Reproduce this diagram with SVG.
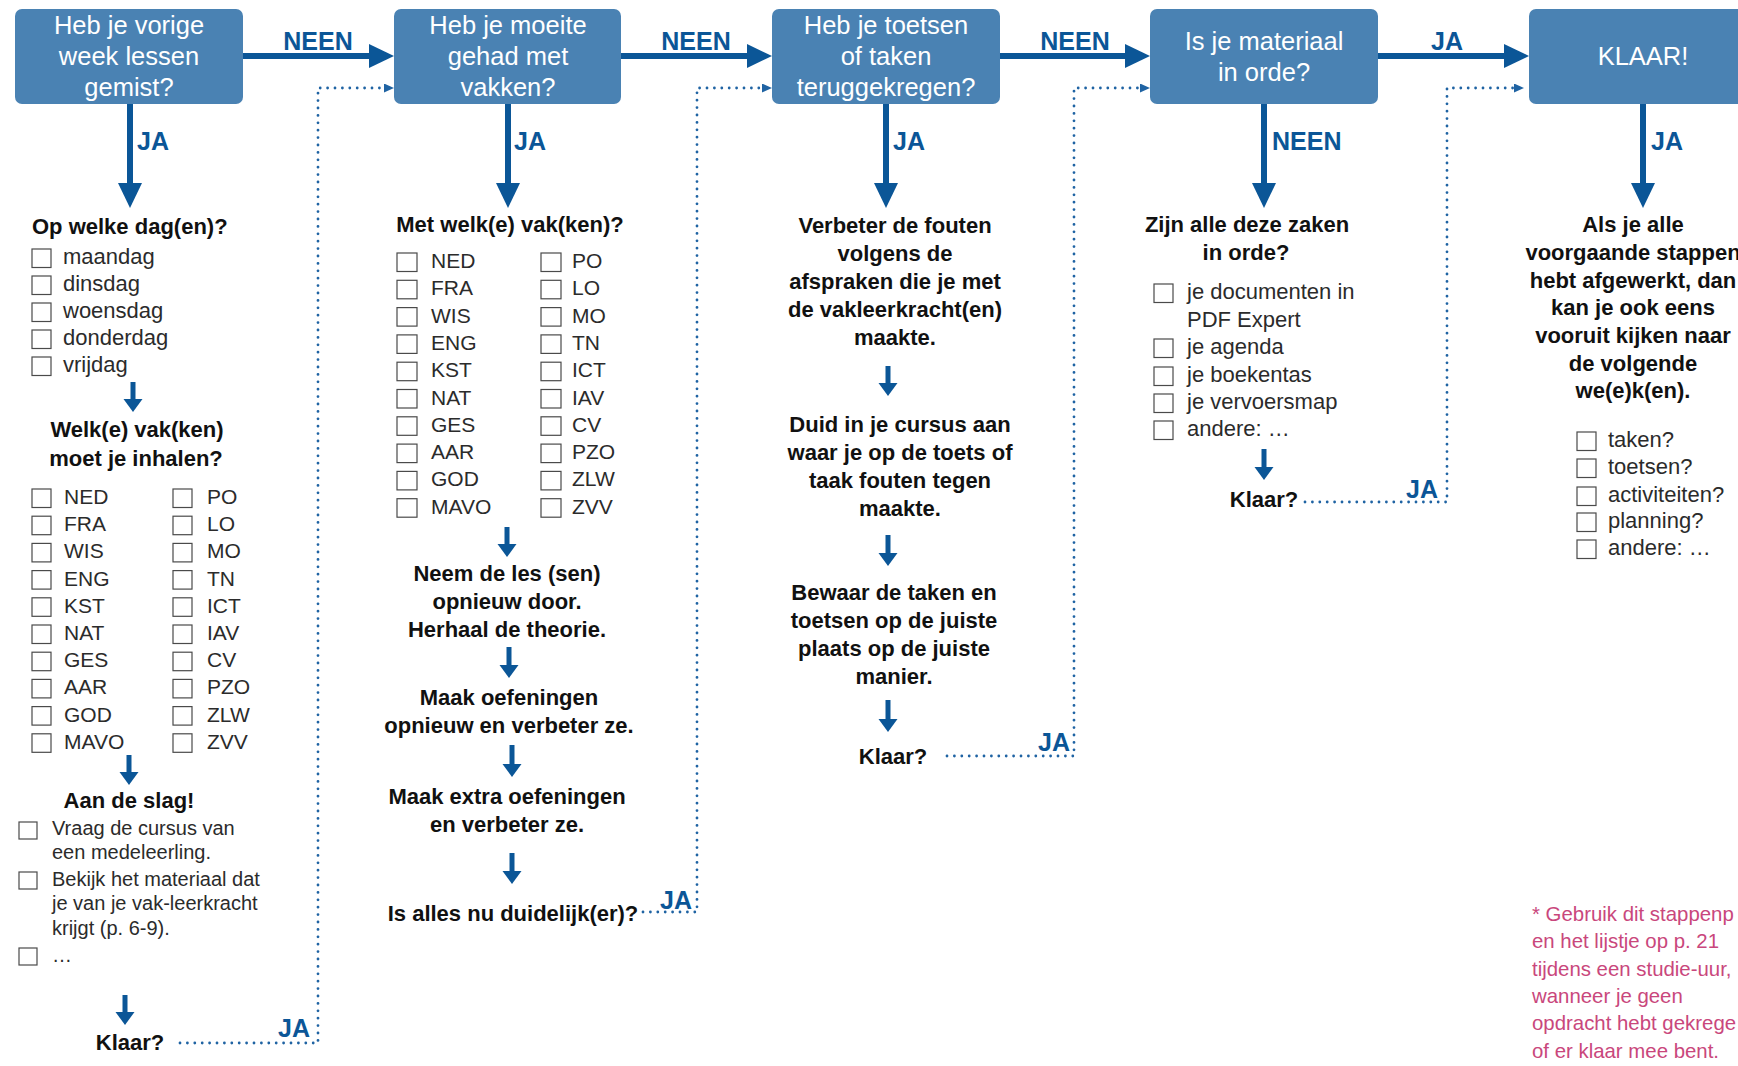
<svg xmlns="http://www.w3.org/2000/svg" width="1738" height="1066" viewBox="0 0 1738 1066">
<defs>
<style>
.box{fill:#4a82b3}
.bt{font-family:"Liberation Sans",Arial,sans-serif;font-size:25.5px;fill:#ffffff;text-anchor:middle}
.lbl{font-family:"Liberation Sans",Arial,sans-serif;font-weight:bold;font-size:25px;fill:#0b5697}
.lblc{text-anchor:middle}
.h{font-family:"Liberation Sans",Arial,sans-serif;font-weight:bold;font-size:22px;fill:#111111}
.hc{text-anchor:middle}
.t{font-family:"Liberation Sans",Arial,sans-serif;font-size:22px;fill:#2b2b2b}
.s{font-size:21px}
.xs{font-size:20px}
.cb{fill:none;stroke:#4a4a4a;stroke-width:1.2}
.arr{stroke:#0b5697;stroke-width:6;fill:none}
.sarr{stroke:#0b5697;stroke-width:5;fill:none}
.dot{stroke:#1f63a3;stroke-width:2.8;stroke-dasharray:0 7.4;stroke-linecap:round;fill:none}
.fn{font-family:"Liberation Sans",Arial,sans-serif;font-size:20.4px;fill:#c9477c}
</style>
<marker id="big" markerUnits="userSpaceOnUse" markerWidth="26" markerHeight="24" refX="1" refY="12" orient="auto"><path d="M0,0 L25,12 L0,24 Z" fill="#0b5697"/></marker>
<marker id="sm" markerUnits="userSpaceOnUse" markerWidth="14" markerHeight="20" refX="1" refY="9.5" orient="auto"><path d="M0,0 L13,9.5 L0,19 Z" fill="#0b5697"/></marker>
<marker id="dh" markerUnits="userSpaceOnUse" markerWidth="11" markerHeight="10" refX="1" refY="4.5" orient="auto"><path d="M0,0 L10,4.5 L0,9 Z" fill="#1f63a3"/></marker>
</defs>
<rect width="1738" height="1066" fill="#ffffff"/>

<g id="connectors">
<line class="arr" x1="243" y1="56" x2="370" y2="56" marker-end="url(#big)"/>
<line class="arr" x1="621" y1="56" x2="748" y2="56" marker-end="url(#big)"/>
<line class="arr" x1="1000" y1="56" x2="1126" y2="56" marker-end="url(#big)"/>
<line class="arr" x1="1378" y1="56" x2="1505" y2="56" marker-end="url(#big)"/>
<text class="lbl lblc" x="318" y="50">NEEN</text>
<text class="lbl lblc" x="696" y="50">NEEN</text>
<text class="lbl lblc" x="1075" y="50">NEEN</text>
<text class="lbl lblc" x="1447" y="50">JA</text>

<line class="arr" x1="130" y1="104" x2="130" y2="184" marker-end="url(#big)"/>
<line class="arr" x1="508" y1="104" x2="508" y2="184" marker-end="url(#big)"/>
<line class="arr" x1="886" y1="104" x2="886" y2="184" marker-end="url(#big)"/>
<line class="arr" x1="1264" y1="104" x2="1264" y2="184" marker-end="url(#big)"/>
<line class="arr" x1="1643" y1="104" x2="1643" y2="184" marker-end="url(#big)"/>
<text class="lbl" x="137" y="150">JA</text>
<text class="lbl" x="514" y="150">JA</text>
<text class="lbl" x="893" y="150">JA</text>
<text class="lbl" x="1272" y="150">NEEN</text>
<text class="lbl" x="1651" y="150">JA</text>

<line class="sarr" x1="133" y1="382" x2="133" y2="400" marker-end="url(#sm)"/>
<line class="sarr" x1="129" y1="755" x2="129" y2="773" marker-end="url(#sm)"/>
<line class="sarr" x1="125" y1="995" x2="125" y2="1013" marker-end="url(#sm)"/>
<line class="sarr" x1="507" y1="527" x2="507" y2="545" marker-end="url(#sm)"/>
<line class="sarr" x1="509" y1="647" x2="509" y2="666" marker-end="url(#sm)"/>
<line class="sarr" x1="512" y1="745" x2="512" y2="765" marker-end="url(#sm)"/>
<line class="sarr" x1="512" y1="853" x2="512" y2="872" marker-end="url(#sm)"/>
<line class="sarr" x1="888" y1="366" x2="888" y2="384" marker-end="url(#sm)"/>
<line class="sarr" x1="888" y1="535" x2="888" y2="554" marker-end="url(#sm)"/>
<line class="sarr" x1="888" y1="700" x2="888" y2="720" marker-end="url(#sm)"/>
<line class="sarr" x1="1264" y1="449" x2="1264" y2="468" marker-end="url(#sm)"/>

<path class="dot" d="M180,1043 H318 V88 H385" marker-end="url(#dh)"/>
<path class="dot" d="M643,912 H697 V88 H763" marker-end="url(#dh)"/>
<path class="dot" d="M947,756 H1074 V88 H1141" marker-end="url(#dh)"/>
<path class="dot" d="M1305,502 H1447 V88 H1515" marker-end="url(#dh)"/>
<text class="lbl" x="278" y="1037">JA</text>
<text class="lbl" x="660" y="909">JA</text>
<text class="lbl" x="1038" y="751">JA</text>
<text class="lbl" x="1406" y="498">JA</text>
</g>

<g id="box1">
<rect class="box" x="15" y="9" width="228" height="95" rx="7"/>
<text class="bt" x="129" y="34">Heb je vorige</text>
<text class="bt" x="129" y="65">week lessen</text>
<text class="bt" x="129" y="96">gemist?</text>
</g>
<g id="box2">
<rect class="box" x="394" y="9" width="227" height="95" rx="7"/>
<text class="bt" x="508" y="34">Heb je moeite</text>
<text class="bt" x="508" y="65">gehad met</text>
<text class="bt" x="508" y="96">vakken?</text>
</g>
<g id="box3">
<rect class="box" x="772" y="9" width="228" height="95" rx="7"/>
<text class="bt" x="886" y="34">Heb je toetsen</text>
<text class="bt" x="886" y="65">of taken</text>
<text class="bt" x="886" y="96">teruggekregen?</text>
</g>
<g id="box4">
<rect class="box" x="1150" y="9" width="228" height="95" rx="7"/>
<text class="bt" x="1264" y="50">Is je materiaal</text>
<text class="bt" x="1264" y="81">in orde?</text>
</g>
<g id="box5">
<rect class="box" x="1529" y="9" width="228" height="95" rx="7"/>
<text class="bt" x="1643" y="65">KLAAR!</text>
</g>

<g id="col1-days">
<text class="h" x="32" y="234">Op welke dag(en)?</text>
<rect class="cb" x="32" y="249" width="19" height="18.5"/><text class="t" x="63" y="264">maandag</text>
<rect class="cb" x="32" y="276" width="19" height="18.5"/><text class="t" x="63" y="291">dinsdag</text>
<rect class="cb" x="32" y="303" width="19" height="18.5"/><text class="t" x="63" y="318">woensdag</text>
<rect class="cb" x="32" y="330" width="19" height="18.5"/><text class="t" x="63" y="345">donderdag</text>
<rect class="cb" x="32" y="357" width="19" height="18.5"/><text class="t" x="63" y="372">vrijdag</text>
</g>

<g id="col1-subjects">
<text class="h hc" x="137" y="437">Welk(e) vak(ken)</text>
<text class="h hc" x="136" y="466">moet je inhalen?</text>
<rect class="cb" x="32" y="489" width="19" height="18.5"/><text class="t s" x="64" y="504">NED</text>
<rect class="cb" x="32" y="516.2" width="19" height="18.5"/><text class="t s" x="64" y="531.2">FRA</text>
<rect class="cb" x="32" y="543.4" width="19" height="18.5"/><text class="t s" x="64" y="558.4">WIS</text>
<rect class="cb" x="32" y="570.6" width="19" height="18.5"/><text class="t s" x="64" y="585.6">ENG</text>
<rect class="cb" x="32" y="597.8" width="19" height="18.5"/><text class="t s" x="64" y="612.8">KST</text>
<rect class="cb" x="32" y="625" width="19" height="18.5"/><text class="t s" x="64" y="640">NAT</text>
<rect class="cb" x="32" y="652.2" width="19" height="18.5"/><text class="t s" x="64" y="667.2">GES</text>
<rect class="cb" x="32" y="679.4" width="19" height="18.5"/><text class="t s" x="64" y="694.4">AAR</text>
<rect class="cb" x="32" y="706.6" width="19" height="18.5"/><text class="t s" x="64" y="721.6">GOD</text>
<rect class="cb" x="32" y="733.8" width="19" height="18.5"/><text class="t s" x="64" y="748.8">MAVO</text>
<rect class="cb" x="173" y="489" width="19" height="18.5"/><text class="t s" x="207" y="504">PO</text>
<rect class="cb" x="173" y="516.2" width="19" height="18.5"/><text class="t s" x="207" y="531.2">LO</text>
<rect class="cb" x="173" y="543.4" width="19" height="18.5"/><text class="t s" x="207" y="558.4">MO</text>
<rect class="cb" x="173" y="570.6" width="19" height="18.5"/><text class="t s" x="207" y="585.6">TN</text>
<rect class="cb" x="173" y="597.8" width="19" height="18.5"/><text class="t s" x="207" y="612.8">ICT</text>
<rect class="cb" x="173" y="625" width="19" height="18.5"/><text class="t s" x="207" y="640">IAV</text>
<rect class="cb" x="173" y="652.2" width="19" height="18.5"/><text class="t s" x="207" y="667.2">CV</text>
<rect class="cb" x="173" y="679.4" width="19" height="18.5"/><text class="t s" x="207" y="694.4">PZO</text>
<rect class="cb" x="173" y="706.6" width="19" height="18.5"/><text class="t s" x="207" y="721.6">ZLW</text>
<rect class="cb" x="173" y="733.8" width="19" height="18.5"/><text class="t s" x="207" y="748.8">ZVV</text>
</g>

<g id="col1-aan">
<text class="h hc" x="129" y="808">Aan de slag!</text>
<rect class="cb" x="19" y="822" width="18" height="17"/>
<text class="t xs" x="52" y="835">Vraag de cursus van</text>
<text class="t xs" x="52" y="859">een medeleerling.</text>
<rect class="cb" x="19" y="872" width="18" height="17"/>
<text class="t xs" x="52" y="886">Bekijk het materiaal dat</text>
<text class="t xs" x="52" y="910">je van je vak-leerkracht</text>
<text class="t xs" x="52" y="935">krijgt (p. 6-9).</text>
<rect class="cb" x="19" y="948" width="18" height="17"/>
<text class="t xs" x="52" y="962">…</text>
</g>
<g id="col1-klaar">
<text class="h hc" x="130" y="1050">Klaar?</text>
</g>

<g id="col2-subjects">
<text class="h hc" x="510" y="232">Met welk(e) vak(ken)?</text>
<rect class="cb" x="397" y="253" width="20" height="18.5"/><text class="t s" x="431" y="268">NED</text>
<rect class="cb" x="397" y="280.3" width="20" height="18.5"/><text class="t s" x="431" y="295.3">FRA</text>
<rect class="cb" x="397" y="307.6" width="20" height="18.5"/><text class="t s" x="431" y="322.6">WIS</text>
<rect class="cb" x="397" y="334.9" width="20" height="18.5"/><text class="t s" x="431" y="349.9">ENG</text>
<rect class="cb" x="397" y="362.2" width="20" height="18.5"/><text class="t s" x="431" y="377.2">KST</text>
<rect class="cb" x="397" y="389.5" width="20" height="18.5"/><text class="t s" x="431" y="404.5">NAT</text>
<rect class="cb" x="397" y="416.8" width="20" height="18.5"/><text class="t s" x="431" y="431.8">GES</text>
<rect class="cb" x="397" y="444.1" width="20" height="18.5"/><text class="t s" x="431" y="459.1">AAR</text>
<rect class="cb" x="397" y="471.4" width="20" height="18.5"/><text class="t s" x="431" y="486.4">GOD</text>
<rect class="cb" x="397" y="498.7" width="20" height="18.5"/><text class="t s" x="431" y="513.7">MAVO</text>
<rect class="cb" x="541" y="253" width="20" height="18.5"/><text class="t s" x="572" y="268">PO</text>
<rect class="cb" x="541" y="280.3" width="20" height="18.5"/><text class="t s" x="572" y="295.3">LO</text>
<rect class="cb" x="541" y="307.6" width="20" height="18.5"/><text class="t s" x="572" y="322.6">MO</text>
<rect class="cb" x="541" y="334.9" width="20" height="18.5"/><text class="t s" x="572" y="349.9">TN</text>
<rect class="cb" x="541" y="362.2" width="20" height="18.5"/><text class="t s" x="572" y="377.2">ICT</text>
<rect class="cb" x="541" y="389.5" width="20" height="18.5"/><text class="t s" x="572" y="404.5">IAV</text>
<rect class="cb" x="541" y="416.8" width="20" height="18.5"/><text class="t s" x="572" y="431.8">CV</text>
<rect class="cb" x="541" y="444.1" width="20" height="18.5"/><text class="t s" x="572" y="459.1">PZO</text>
<rect class="cb" x="541" y="471.4" width="20" height="18.5"/><text class="t s" x="572" y="486.4">ZLW</text>
<rect class="cb" x="541" y="498.7" width="20" height="18.5"/><text class="t s" x="572" y="513.7">ZVV</text>
</g>
<g id="col2-steps">
<text class="h hc" x="507" y="581">Neem de les (sen)</text>
<text class="h hc" x="507" y="609">opnieuw door.</text>
<text class="h hc" x="507" y="637">Herhaal de theorie.</text>
<text class="h hc" x="509" y="705">Maak oefeningen</text>
<text class="h hc" x="509" y="733">opnieuw en verbeter ze.</text>
<text class="h hc" x="507" y="804">Maak extra oefeningen</text>
<text class="h hc" x="507" y="832">en verbeter ze.</text>
<text class="h hc" x="513" y="921">Is alles nu duidelijk(er)?</text>
</g>

<g id="col3-steps">
<text class="h hc" x="895" y="233">Verbeter de fouten</text>
<text class="h hc" x="895" y="261">volgens de</text>
<text class="h hc" x="895" y="289">afspraken die je met</text>
<text class="h hc" x="895" y="317">de vakleerkracht(en)</text>
<text class="h hc" x="895" y="345">maakte.</text>
<text class="h hc" x="900" y="432">Duid in je cursus aan</text>
<text class="h hc" x="900" y="460">waar je op de toets of</text>
<text class="h hc" x="900" y="488">taak fouten tegen</text>
<text class="h hc" x="900" y="516">maakte.</text>
<text class="h hc" x="894" y="600">Bewaar de taken en</text>
<text class="h hc" x="894" y="628">toetsen op de juiste</text>
<text class="h hc" x="894" y="656">plaats op de juiste</text>
<text class="h hc" x="894" y="684">manier.</text>
<text class="h hc" x="893" y="764">Klaar?</text>
</g>

<g id="col4-list">
<text class="h hc" x="1247" y="232">Zijn alle deze zaken</text>
<text class="h hc" x="1246" y="260">in orde?</text>
<rect class="cb" x="1154" y="284" width="19" height="18.5"/><text class="t" x="1187" y="299">je documenten in</text>
<text class="t" x="1187" y="327">PDF Expert</text>
<rect class="cb" x="1154" y="339" width="19" height="18.5"/><text class="t" x="1187" y="354">je agenda</text>
<rect class="cb" x="1154" y="367" width="19" height="18.5"/><text class="t" x="1187" y="382">je boekentas</text>
<rect class="cb" x="1154" y="394" width="19" height="18.5"/><text class="t" x="1187" y="409">je vervoersmap</text>
<rect class="cb" x="1154" y="421" width="19" height="18.5"/><text class="t" x="1187" y="436">andere: …</text>
<text class="h hc" x="1264" y="507">Klaar?</text>
</g>

<g id="col5-list">
<text class="h hc" x="1633" y="232">Als je alle</text>
<text class="h hc" x="1633" y="260">voorgaande stappen</text>
<text class="h hc" x="1633" y="288">hebt afgewerkt, dan</text>
<text class="h hc" x="1633" y="315">kan je ook eens</text>
<text class="h hc" x="1633" y="343">vooruit kijken naar</text>
<text class="h hc" x="1633" y="371">de volgende</text>
<text class="h hc" x="1633" y="398">we(e)k(en).</text>
<rect class="cb" x="1577" y="432" width="19" height="18.5"/><text class="t" x="1608" y="447">taken?</text>
<rect class="cb" x="1577" y="459" width="19" height="18.5"/><text class="t" x="1608" y="474">toetsen?</text>
<rect class="cb" x="1577" y="487" width="19" height="18.5"/><text class="t" x="1608" y="502">activiteiten?</text>
<rect class="cb" x="1577" y="513" width="19" height="18.5"/><text class="t" x="1608" y="528">planning?</text>
<rect class="cb" x="1577" y="540" width="19" height="18.5"/><text class="t" x="1608" y="555">andere: …</text>
</g>

<g id="footnote">
<text class="fn" x="1532" y="921">* Gebruik dit stappenp</text>
<text class="fn" x="1532" y="948">en het lijstje op p. 21</text>
<text class="fn" x="1532" y="976">tijdens een studie-uur,</text>
<text class="fn" x="1532" y="1003">wanneer je geen</text>
<text class="fn" x="1532" y="1030">opdracht hebt gekrege</text>
<text class="fn" x="1532" y="1058">of er klaar mee bent.</text>
</g>
</svg>
